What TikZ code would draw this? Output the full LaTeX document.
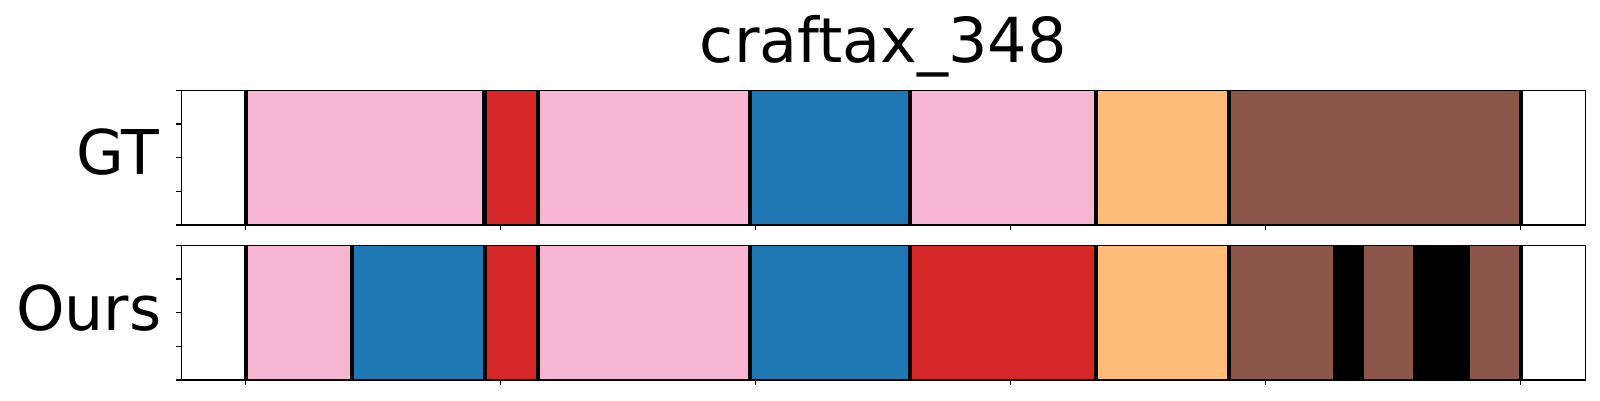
\documentclass[tikz,border=0pt]{standalone}
\usepackage{fontspec}
\setmainfont{DejaVu Sans}
\definecolor{tpink}{HTML}{F7B6D2}
\definecolor{tred}{HTML}{D62728}
\definecolor{tblue}{HTML}{1F77B4}
\definecolor{torange}{HTML}{FFBB78}
\definecolor{tbrown}{HTML}{8C564B}
\tikzset{
  seg/.style={fill=#1, draw=none},
  bnd/.style={line width=4.2pt, black},
  frame/.style={line width=1.1pt, black},
  tick/.style={line width=1.1pt, black},
  lbl/.style={font=\fontsize{61.7}{70}\selectfont, inner sep=0pt, anchor=base east},
  ttl/.style={font=\fontsize{62}{70}\selectfont, inner sep=0pt, anchor=base},
}
\begin{document}
\begin{tikzpicture}[x=1pt,y=-1pt]
\useasboundingbox (0,0) rectangle (1600,400);
% GT row: y 90.3 to 225
\def\gt{90.3}\def\gb{225}
\foreach \a/\b/\c in {245.7/484.5/tpink,484.5/538/tred,538/750/tpink,750/910/tblue,910/1096/tpink,1096/1229/torange,1229/1521/tbrown}
  \fill[seg=\c] (\a,\gt) rectangle (\b,\gb);
\foreach \x in {245.7,484.5,538,750,910,1096,1229,1521}
  \draw[bnd] (\x,\gt) -- (\x,\gb);
\draw[frame] (181.3,\gt) rectangle (1585.3,\gb);
\foreach \y in {90.3,124,157.6,191.3,225}
  \draw[tick] (181.3,\y) -- (176.4,\y);
\foreach \k in {0,...,5}
  \draw[tick] (245.7+255*\k,\gb) -- (245.7+255*\k,\gb+4.9);
% Ours row: y 245.3 to 380
\def\ot{245.3}\def\ob{380}
\foreach \a/\b/\c in {245.7/352/tpink,352/485/tblue,485/538/tred,538/750/tpink,750/910/tblue,910/1096/tred,1096/1229/torange,1229/1333/tbrown,1333/1364/black,1364/1413/tbrown,1413/1470/black,1470/1521/tbrown}
  \fill[seg=\c] (\a,\ot) rectangle (\b,\ob);
\foreach \x in {245.7,352,485,538,750,910,1096,1229,1521}
  \draw[bnd] (\x,\ot) -- (\x,\ob);
\draw[frame] (181.3,\ot) rectangle (1585.3,\ob);
\foreach \y in {245.3,279,312.6,346.3,380}
  \draw[tick] (181.3,\y) -- (176.4,\y);
\foreach \k in {0,...,5}
  \draw[tick] (245.7+255*\k,\ob) -- (245.7+255*\k,\ob+4.9);
% labels
\node[ttl] (title) at (883.3,62) {craftax\_348};
\node[lbl] (gtlbl) at (159.7,174) {GT};
\node[lbl] (ourslbl) at (161.7,330) {Ours};
\end{tikzpicture}
\end{document}
